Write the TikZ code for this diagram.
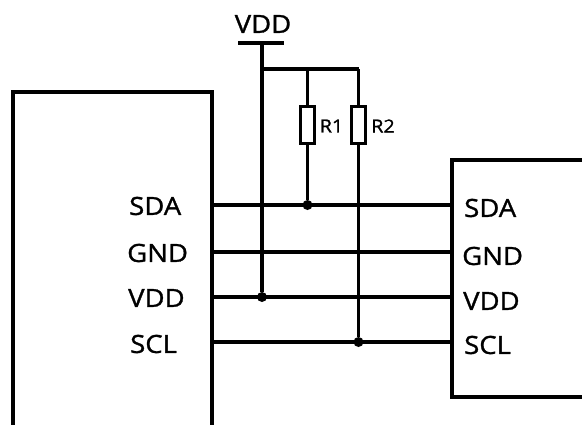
\documentclass[tikz,border=0pt]{standalone}
\usepackage{fontspec}
\setmainfont[FakeStretch=1.1,FakeBold=1.2]{Open Sans}
\usepackage{tikz}

\tikzset{
	wire/.style={line width=3.3pt},
	chip/.style={draw,line width=3.3pt,inner sep=0pt},
	resistor/.style={draw,line width=3.3pt,inner sep=0pt,minimum width=14pt,minimum height=37pt},
	pin/.style={font=\fontsize{25}{27}\selectfont,inner sep=0pt,anchor=west},
	rlabel/.style={font=\fontsize{18}{20}\selectfont,inner sep=0pt},
	junction/.style={circle,fill=black,inner sep=0pt,minimum size=10pt}
}

\begin{document}
\begin{tikzpicture}[x=1pt,y=-1pt]
		\useasboundingbox (0,0) rectangle (582,424);
		% master and slave boxes
		\node[chip,minimum width=199pt,minimum height=348pt] (Master) at (112.5,266) {};
		\node[chip,minimum width=150pt,minimum height=237pt] (Slave) at (527,278.5) {};

		% bus lines
		\coordinate (SDA) at (0,205);
		\coordinate (GND) at (0,252);
		\coordinate (VDD) at (0,297);
		\coordinate (SCL) at (0,342);
		\draw[wire] (Master.east |- SDA) to (Slave.west |- SDA);
		\draw[wire] (Master.east |- GND) to (Slave.west |- GND);
		\draw[wire] (Master.east |- VDD) to (Slave.west |- VDD);
		\draw[wire] (Master.east |- SCL) to (Slave.west |- SCL);

		% pin names
		\node[pin] (MSDA) at (129,206) {SDA};
		\node[pin] (MGND) at (127,253) {GND};
		\node[pin] (MVDD) at (128,298) {VDD};
		\node[pin] (MSCL) at (130,344) {SCL};
		\node[pin] (SSDA) at (464,208) {SDA};
		\node[pin] (SGND) at (462,256) {GND};
		\node[pin] (SVDD) at (463,301) {VDD};
		\node[pin] (SSCL) at (464,345) {SCL};

		% supply and pull-ups
		\node[font=\fontsize{25}{27}\selectfont,inner sep=0pt] (Supply) at (263,24) {VDD};
		\coordinate (BarL) at (238,43);
		\coordinate (BarR) at (284,43);
		\coordinate (Top) at (262,43);
		\coordinate (RailL) at (262,69);
		\coordinate (RailR) at (358,69);
		\node[resistor] (R1) at (307.5,125) {};
		\node[resistor] (R2) at (358.5,125) {};
		\node[rlabel] (R1label) at (331.5,126) {R1};
		\node[rlabel] (R2label) at (383,126) {R2};

		\node[junction] (J1) at (262,297) {};
		\node[junction] (J2) at (307.5,205) {};
		\node[junction] (J3) at (358.5,342) {};

		\draw[wire] (BarL) to (BarR);
		\draw[wire] (Top) to (J1);
		\draw[wire] (RailL) to (RailR -| R2);
		\draw[wire] (RailL -| R1) to (R1.north);
		\draw[wire] (RailR -| R2) to (R2.north);
		\draw[wire] (R1.south) to (J2);
		\draw[wire] (R2.south) to (J3);
\end{tikzpicture}
\end{document}
